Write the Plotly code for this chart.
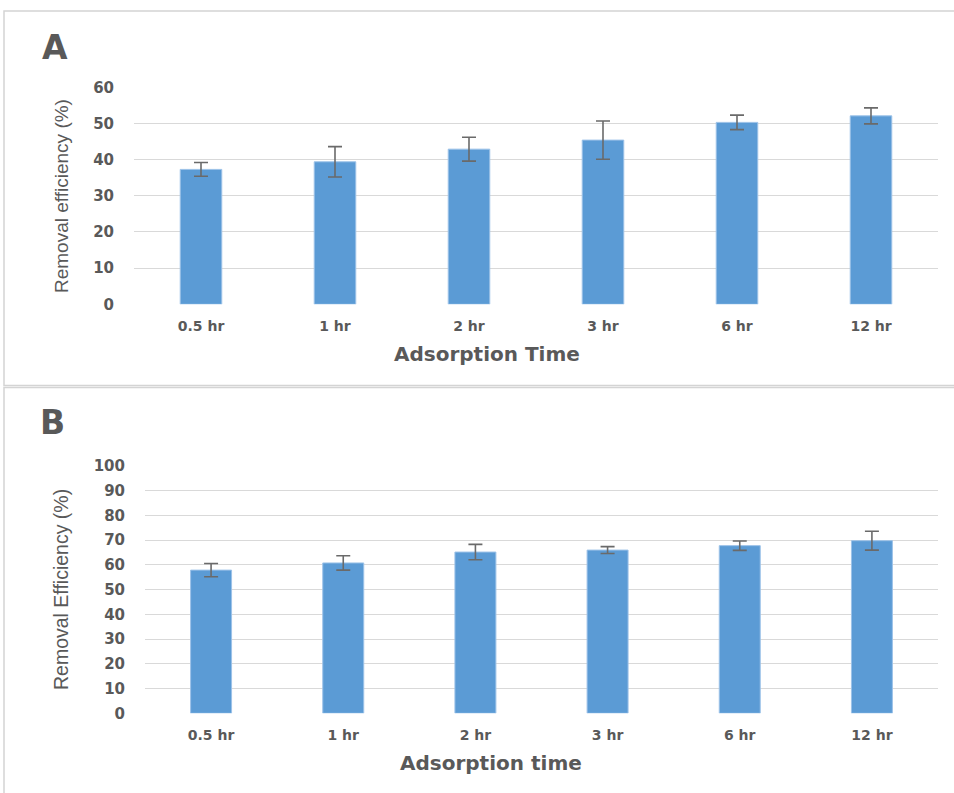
import plotly.graph_objects as go

# Adsorption time categories
times = ["0.5 hr", "1 hr", "2 hr", "3 hr", "6 hr", "12 hr"]

# Panel A: removal efficiency (%) and standard deviation
eff_a = [37.3, 39.4, 42.9, 45.4, 50.3, 52.1]
err_a = [1.9, 4.2, 3.3, 5.3, 2.0, 2.2]

# Panel B: removal efficiency (%) and standard deviation
eff_b = [57.9, 60.8, 65.2, 66.0, 67.8, 69.8]
err_b = [2.7, 2.9, 3.1, 1.4, 1.9, 3.8]

W, H = 954, 793
BAR = "#5b9bd5"
TXT = "#595959"
GRID = "#d9d9d9"


def px_x(p):
    return p / W


def px_y(p):
    return 1 - p / H


def bars(y, e, xa, ya):
    return go.Bar(
        x=times, y=y, xaxis=xa, yaxis=ya, width=0.31,
        marker=dict(color=BAR, line=dict(color="#9cc2e8", width=1)),
        error_y=dict(type="data", array=e, visible=True,
                     color="#6a6a6a", thickness=1.6, width=7),
        showlegend=False, hoverinfo="x+y",
    )


fig = go.Figure()
fig.add_trace(bars(eff_a, err_a, "x", "y"))
fig.add_trace(bars(eff_b, err_b, "x2", "y2"))

tick_font = dict(family="DejaVu Sans", size=14, color=TXT, weight="bold")
ytick_font = dict(family="DejaVu Sans", size=15, color=TXT, weight="bold")

xcommon = dict(showgrid=False, zeroline=False, showline=False,
               ticks="", tickfont=tick_font, ticklabelstandoff=12,
               fixedrange=True, automargin=False)
ycommon = dict(showgrid=True, gridcolor=GRID, gridwidth=1, zeroline=False,
               showline=False, ticks="", tickfont=ytick_font, dtick=10,
               ticklabelstandoff=19, fixedrange=True, automargin=False)

fig.update_layout(
    width=W, height=H, autosize=False,
    margin=dict(l=0, r=0, t=0, b=0, pad=0, autoexpand=False),
    paper_bgcolor="white", plot_bgcolor="white",
    bargap=0.69,
    xaxis=dict(domain=[px_x(134), px_x(938)], anchor="y", **xcommon),
    yaxis=dict(domain=[px_y(304.3), px_y(87.3)], range=[0, 60],
               anchor="x", **ycommon),
    xaxis2=dict(domain=[px_x(145), px_x(938)], anchor="y2", **xcommon),
    yaxis2=dict(domain=[px_y(713.3), px_y(466)], range=[0, 100],
                anchor="x2", **ycommon),
)

# Panel frames
frame = dict(type="rect", xref="paper", yref="paper",
             line=dict(color="#d4d4d4", width=1.5), fillcolor="rgba(0,0,0,0)",
             layer="below")
fig.add_shape(x0=px_x(4), x1=1.02, y0=px_y(385.5), y1=px_y(11), **frame)
fig.add_shape(x0=px_x(4), x1=1.02, y0=-0.05, y1=px_y(387.5), **frame)


def note(text, x, y, size, family, angle=0, xanchor="center"):
    fig.add_annotation(
        text=text, x=px_x(x), y=px_y(y), xref="paper", yref="paper",
        showarrow=False, textangle=angle, xanchor=xanchor, yanchor="middle",
        font=dict(family=family, size=size, color=TXT,
                  weight="bold" if angle == 0 else "normal"),
    )


# Panel letters
note("A", 40, 47, 33, "DejaVu Sans", xanchor="left")
note("B", 38, 422, 33, "DejaVu Sans", xanchor="left")

# Axis titles
narrow = "Liberation Sans Narrow, Liberation Sans, Arial"
note("Removal efficiency (%)", 62, 196, 19, narrow, angle=-90)
note("Removal Efficiency (%)", 61, 590, 19.5, narrow, angle=-90)
note("Adsorption Time", 487, 354, 20, "DejaVu Sans")
note("Adsorption time", 491, 763, 20, "DejaVu Sans")

fig.write_html("out.html")
